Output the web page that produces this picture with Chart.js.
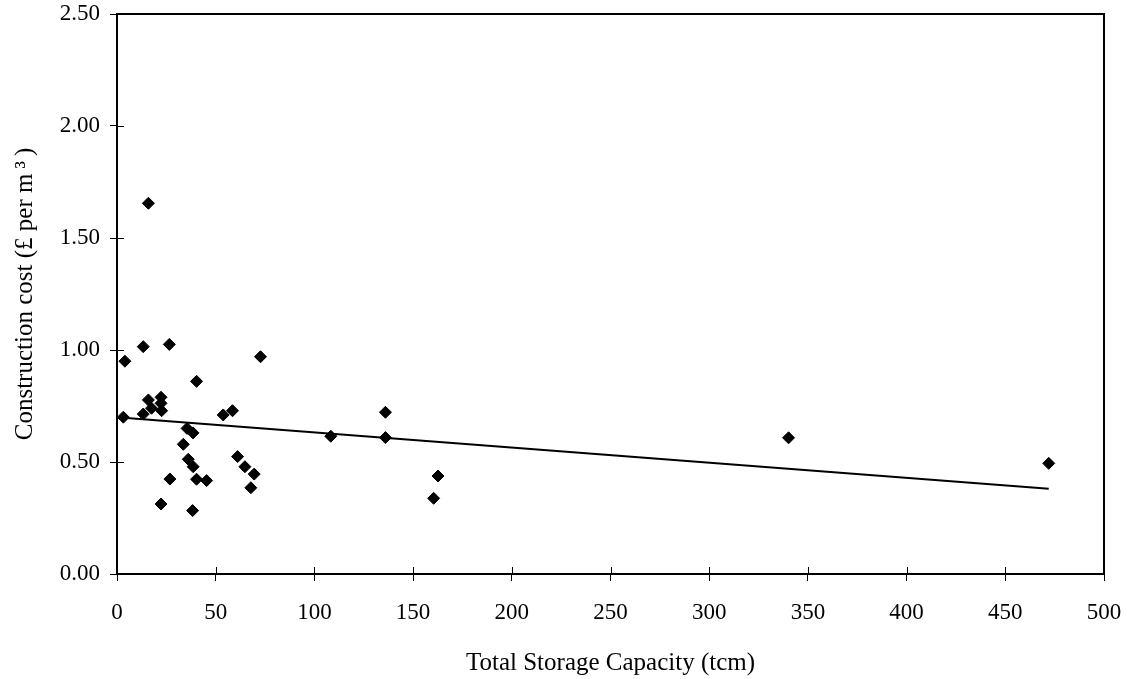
<!DOCTYPE html>
<html lang="en">
<head>
    <meta charset="UTF-8">
    <title>Construction cost vs storage capacity</title>
    <script src="https://cdn.jsdelivr.net/npm/chart.js@4.4.1/dist/chart.umd.min.js"></script>
    <style>
        html, body {
            margin: 0;
            padding: 0;
            background: #fff;
        }

        #wrap {
            width: 1130px;
            height: 679px;
        }
    </style>
</head>
<body>

<div id="wrap"><canvas id="myChart" width="1130" height="679"></canvas></div>

<script>
    // storage capacity (tcm) and construction cost (£ per m3)
    var capacity = [3.2, 4.0, 13.3, 13.3, 15.9, 15.9, 17.5, 22.3, 22.3, 22.6, 22.3, 26.5,
        26.8, 33.6, 35.5, 38.5, 36.1, 38.6, 38.3, 40.3, 40.3, 45.4, 53.8, 58.5,
        61.1, 64.8, 67.8, 69.5, 72.7, 108.3, 136, 136, 160.4, 162.6, 340.2, 472];
    var cost = [0.70, 0.95, 1.015, 0.714, 1.655, 0.777, 0.740, 0.789, 0.762, 0.729, 0.3125, 1.025,
        0.424, 0.579, 0.65, 0.63, 0.512, 0.479, 0.283, 0.860, 0.423, 0.417, 0.710, 0.729,
        0.524, 0.479, 0.385, 0.446, 0.970, 0.615, 0.722, 0.609, 0.338, 0.4375, 0.608, 0.494];

    var xTicks = [0, 50, 100, 150, 200, 250, 300, 350, 400, 450, 500];
    var yTicks = [0, 0.5, 1.0, 1.5, 2.0, 2.5];

    var points = [];
    for (var i = 0; i < capacity.length; i++) {
        points.push({ x: capacity[i], y: cost[i] });
    }

    // linear trendline (least squares), spans the data like the spreadsheet one
    function trend() {
        var n = capacity.length, sx = 0, sy = 0, sxx = 0, sxy = 0;
        for (var i = 0; i < n; i++) {
            sx += capacity[i];
            sy += cost[i];
            sxx += capacity[i] * capacity[i];
            sxy += capacity[i] * cost[i];
        }
        var slope = (n * sxy - sx * sy) / (n * sxx - sx * sx);
        var icpt = (sy - slope * sx) / n;
        var lo = Math.min.apply(null, capacity), hi = Math.max.apply(null, capacity);
        return [{ x: lo, y: icpt + slope * lo }, { x: hi, y: icpt + slope * hi }];
    }

    // box round the plot area plus ticks that cross the axes
    var frame = {
        id: 'frame',
        afterDraw: function(chart) {
            var ctx = chart.ctx, a = chart.chartArea;
            ctx.save();
            ctx.strokeStyle = '#000';
            ctx.lineWidth = 2;
            ctx.strokeRect(a.left, a.top, a.right - a.left, a.bottom - a.top);
            ctx.lineWidth = 1;
            ctx.beginPath();
            xTicks.forEach(function(v) {
                var px = Math.round(chart.scales.x.getPixelForValue(v)) + 0.5;
                ctx.moveTo(px, a.bottom);
                ctx.lineTo(px, a.bottom - 7);
            });
            yTicks.forEach(function(v) {
                var py = Math.round(chart.scales.y.getPixelForValue(v)) + 0.5;
                ctx.moveTo(a.left, py);
                ctx.lineTo(a.left + 7, py);
            });
            ctx.stroke();
            ctx.restore();
        }
    };

    var tickFont = { family: "'Liberation Serif', 'Times New Roman', serif", size: 23 };
    var titleFont = { family: "'Liberation Serif', 'Times New Roman', serif", size: 25 };

    var ctx = document.getElementById('myChart').getContext('2d');
    var myChart = new Chart(ctx, {
        type: 'scatter',
        data: {
            datasets: [
                {
                    label: 'Schemes',
                    data: points,
                    pointStyle: 'rectRot',
                    pointRadius: 6,
                    pointBackgroundColor: '#000',
                    pointBorderColor: '#000',
                    pointBorderWidth: 1,
                    order: 1
                },
                {
                    type: 'line',
                    label: 'Trend',
                    data: trend(),
                    borderColor: '#000',
                    borderWidth: 2,
                    pointRadius: 0,
                    fill: false,
                    order: 2
                }
            ]
        },
        options: {
            responsive: false,
            animation: false,
            layout: {
                autoPadding: false,
                padding: { top: 14, right: 26, bottom: 0, left: 0 }
            },
            plugins: {
                legend: { display: false },
                tooltip: { enabled: false }
            },
            scales: {
                x: {
                    type: 'linear',
                    min: 0,
                    max: 500,
                    afterBuildTicks: function(axis) {
                        axis.ticks = xTicks.map(function(v) { return { value: v }; });
                    },
                    afterFit: function(axis) {
                        axis.height = 105;
                        axis.paddingLeft = 0;
                        axis.paddingRight = 0;
                    },
                    grid: {
                        drawOnChartArea: false,
                        tickLength: 7,
                        tickColor: '#000'
                    },
                    border: { display: true, color: '#000', width: 2 },
                    ticks: {
                        color: '#000',
                        font: tickFont,
                        padding: 18,
                        maxRotation: 0
                    },
                    title: {
                        display: true,
                        text: 'Total Storage Capacity (tcm)',
                        color: '#000',
                        font: titleFont,
                        padding: { top: 0, bottom: 1 }
                    }
                },
                y: {
                    type: 'linear',
                    min: 0,
                    max: 2.5,
                    afterBuildTicks: function(axis) {
                        axis.ticks = yTicks.map(function(v) { return { value: v }; });
                    },
                    afterFit: function(axis) {
                        axis.width = 117;
                        axis.paddingTop = 0;
                        axis.paddingBottom = 0;
                    },
                    grid: {
                        drawOnChartArea: false,
                        tickLength: 7,
                        tickColor: '#000'
                    },
                    border: { display: true, color: '#000', width: 2 },
                    ticks: {
                        color: '#000',
                        font: tickFont,
                        padding: 10,
                        callback: function(v) { return v.toFixed(2); }
                    },
                    title: {
                        display: true,
                        text: 'Construction cost (£ per m\u2009³\u2009)',
                        color: '#000',
                        font: titleFont,
                        padding: { top: 10, bottom: 0 }
                    }
                }
            }
        },
        plugins: [frame]
    });
</script>

</body>
</html>
